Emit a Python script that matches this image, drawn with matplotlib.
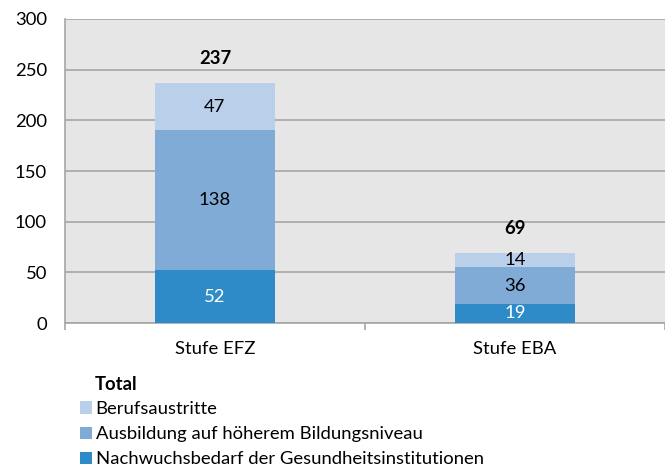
import matplotlib
matplotlib.use("Agg")
import matplotlib.pyplot as plt
import numpy as np
from matplotlib.patches import Patch

categories = ["Stufe EFZ", "Stufe EBA"]
nachwuchs = [52, 19]
ausbildung = [138, 36]
austritte = [47, 14]

series_names = [
    "Nachwuchsbedarf der Gesundheitsinstitutionen",
    "Ausbildung auf höherem Bildungsniveau",
    "Berufsaustritte",
]
colors = ["#2E8BC8", "#80ABD7", "#B9CFEA"]
label_colors = ["white", "black", "black"]

plt.rcParams["font.family"] = ["Lato", "DejaVu Sans"]
fs = 13.3

fig = plt.figure(figsize=(6.65, 4.73), dpi=100)
ax = fig.add_axes([65 / 665, 150 / 473, 600 / 665, 304 / 473])
ax.set_facecolor("#E6E6E6")

x = np.arange(len(categories))
bottom = np.zeros(len(categories))
for vals, name, col, lc in zip([nachwuchs, ausbildung, austritte], series_names, colors, label_colors):
    vals = np.array(vals, dtype=float)
    ax.bar(x, vals, 0.4, bottom=bottom, color=col, label=name, zorder=3)
    for xi, b, v in zip(x, bottom, vals):
        ax.text(xi, b + v / 2, f"{int(v)}", ha="center", va="center",
                color=lc, fontsize=fs, zorder=4)
    bottom += vals

for xi, t in zip(x, bottom):
    ax.text(xi, t + 24, f"{int(t)}", ha="center", va="center",
            fontsize=fs, fontweight="bold")

ax.set_xlim(-0.5, 1.5)
ax.set_ylim(0, 300)
ax.set_yticks(np.arange(0, 301, 50))
ax.yaxis.grid(True, color="#A6A6A6", linewidth=1.2, zorder=1)
ax.set_axisbelow(True)
ax.tick_params(axis="y", length=0, labelsize=fs, pad=13)
ax.set_xticks(x)
ax.set_xticklabels(categories)
ax.tick_params(axis="x", which="major", length=0, labelsize=fs, pad=13)
ax.set_xticks([-0.5, 0.5, 1.5], minor=True)
ax.tick_params(axis="x", which="minor", length=5, color="#A6A6A6", width=1.2)
for side in ["top", "right"]:
    ax.spines[side].set_visible(False)
for side in ["left", "bottom"]:
    ax.spines[side].set_color("#A6A6A6")
    ax.spines[side].set_linewidth(1.2)

fig.text(95 / 665, 1 - 384 / 473, "Total", fontsize=fs, fontweight="bold",
         ha="left", va="center")
handles = [Patch(facecolor=c) for c in colors[::-1]]
fig.legend(handles, series_names[::-1], loc="upper left",
           bbox_to_anchor=(80 / 665, 1 - 401 / 473), frameon=False,
           fontsize=fs, handlelength=0.65, handleheight=0.65,
           handletextpad=0.2, labelspacing=0.5, borderpad=0, borderaxespad=0)

fig.savefig("out.png", dpi=100)
